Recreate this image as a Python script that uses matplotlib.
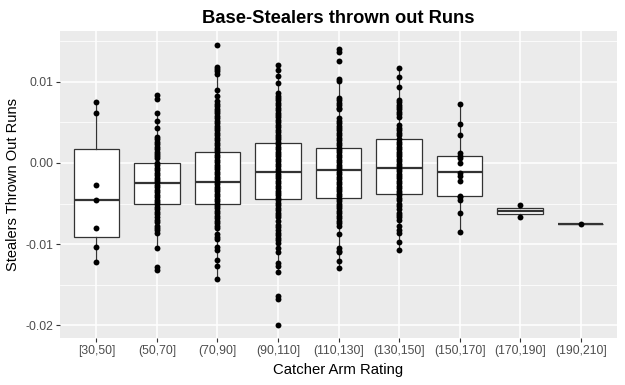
import matplotlib
matplotlib.use("Agg")
import matplotlib.pyplot as plt

plt.rcParams['font.family'] = ['Liberation Sans', 'DejaVu Sans']

categories = ["[30,50]", "(50,70]", "(70,90]", "(90,110]", "(110,130]",
              "(130,150]", "(150,170]", "(170,190]", "(190,210]"]

# box stats
q1 = [-0.00911, -0.00501, -0.00501, -0.00443, -0.00431, -0.00382, -0.00403, -0.00628, -0.00748]
med = [-0.00452, -0.00251, -0.00239, -0.00115, -0.00091, -0.00066, -0.00116, -0.00591, -0.00748]
q3 = [0.00172, 0.0, 0.00135, 0.00246, 0.00185, 0.00296, 0.00086, -0.00554, -0.00748]
whislo = [-0.01219, -0.01047, -0.01433, -0.01335, -0.01293, -0.01068, -0.00846, -0.00665, -0.00748]
whishi = [0.00751, 0.00616, 0.01090, 0.01211, 0.01034, 0.01170, 0.00730, -0.00517, -0.00748]

# observed points per category
pts1 = [0.00751, 0.00616, -0.00271, -0.00456, -0.00800, -0.01034, -0.01219]
pts2 = [0.0084, 0.0079, 0.0062, 0.0052, 0.0043, 0.0032,
        0.0029, 0.0026, 0.0023, 0.0020, 0.0017, 0.0014, 0.0011, 0.0008, 0.0006, 0.0000,
        -0.0003, -0.0006, -0.0009, -0.0012, -0.0015, -0.0018, -0.0021, -0.0024, -0.0027, -0.0030,
        -0.0033, -0.0036, -0.0039, -0.0042, -0.0045, -0.0048, -0.0051, -0.0054, -0.0057, -0.0060,
        -0.0063, -0.0067, -0.0070, -0.0073, -0.0077, -0.0080, -0.0083, -0.0086,
        -0.0105, -0.0128, -0.0132]
pts3 = [0.0145, 0.0118, 0.0116, 0.0113, 0.0110, 0.0090, 0.0082,
        0.0076, 0.0073, 0.0070, 0.0067, 0.0064, 0.0061, 0.0058, 0.0055, 0.0052, 0.0049,
        0.0046, 0.0043, 0.0040, 0.0037, 0.0034, 0.0031, 0.0028, 0.0025, 0.0022, 0.0019,
        0.0016, 0.0013, 0.0010, 0.0007, 0.0004, 0.0001, -0.0002, -0.0005, -0.0008, -0.0011,
        -0.0014, -0.0017, -0.0020, -0.0023, -0.0026, -0.0029, -0.0032, -0.0035, -0.0038, -0.0041,
        -0.0044, -0.0047, -0.0050, -0.0053, -0.0056, -0.0059, -0.0062, -0.0065, -0.0068, -0.0071,
        -0.0074, -0.0077, -0.0080,
        -0.0088, -0.0091, -0.0094, -0.0104, -0.0107, -0.0119, -0.0127, -0.0143]
pts4 = [0.0121, 0.0115, 0.0107, 0.0099,
        0.0086, 0.0083, 0.0080, 0.0077, 0.0074, 0.0071, 0.0068, 0.0065, 0.0062, 0.0059,
        0.0056, 0.0053, 0.0050, 0.0047, 0.0044, 0.0041, 0.0038, 0.0035, 0.0032, 0.0029,
        0.0026, 0.0023, 0.0020, 0.0017, 0.0014, 0.0011, 0.0008, 0.0005, 0.0002, -0.0001,
        -0.0004, -0.0007, -0.0010, -0.0013, -0.0016, -0.0019, -0.0022, -0.0025, -0.0028, -0.0031,
        -0.0034, -0.0037, -0.0040, -0.0043, -0.0046, -0.0049, -0.0052, -0.0055, -0.0058, -0.0061,
        -0.0064, -0.0067,
        -0.0072, -0.0076, -0.0079, -0.0082, -0.0086, -0.0089, -0.0092, -0.0095, -0.0099,
        -0.0105, -0.0109, -0.0123, -0.0127, -0.0134, -0.0164, -0.0168, -0.0199]
pts5 = [0.0140, 0.0137, 0.0126, 0.0103, 0.0101,
        0.0080, 0.0077, 0.0074, 0.0071, 0.0068, 0.0066,
        0.0055, 0.0052, 0.0049, 0.0046, 0.0043, 0.0040, 0.0037, 0.0034, 0.0031, 0.0028,
        0.0025, 0.0022, 0.0019, 0.0016, 0.0013, 0.0010, 0.0007, 0.0004, 0.0001, -0.0002,
        -0.0005, -0.0008, -0.0011, -0.0014, -0.0017, -0.0020, -0.0023, -0.0026, -0.0029, -0.0032,
        -0.0035, -0.0038, -0.0041, -0.0044, -0.0047, -0.0050, -0.0053, -0.0056, -0.0059, -0.0062,
        -0.0065, -0.0068, -0.0071, -0.0074, -0.0077,
        -0.0088, -0.0105, -0.0108, -0.0110, -0.0121, -0.0129]
pts6 = [0.0117, 0.0106, 0.0094,
        0.0078, 0.0075, 0.0072, 0.0069, 0.0066, 0.0063, 0.0060, 0.0057,
        0.0047, 0.0043, 0.0040, 0.0037, 0.0034,
        0.0029, 0.0026, 0.0023, 0.0020, 0.0017, 0.0014, 0.0011, 0.0008, 0.0005, 0.0002,
        -0.0001, -0.0004, -0.0007, -0.0010, -0.0013, -0.0016, -0.0019, -0.0022, -0.0025, -0.0028,
        -0.0031, -0.0034, -0.0037, -0.0040, -0.0043, -0.0046,
        -0.0050, -0.0053, -0.0057, -0.0061, -0.0064, -0.0067, -0.0070,
        -0.0078, -0.0082, -0.0086, -0.0097, -0.0107]
pts7 = [0.0073, 0.0048, 0.00345, 0.00123, 0.0009, 0.00062, 0.0, -0.00123, -0.00165,
        -0.00227, -0.00403, -0.00424, -0.00452, -0.00616, -0.00846]
pts8 = [-0.00517, -0.00665]
pts9 = [-0.00748]
points = [pts1, pts2, pts3, pts4, pts5, pts6, pts7, pts8, pts9]

fig = plt.figure(figsize=(6.25, 3.85), dpi=100)
ax = fig.add_axes([60 / 625, 1 - 338 / 385, 557 / 625, 307 / 385])
ax.set_facecolor('#EBEBEB')

pos = list(range(1, len(categories) + 1))
stats = []
for i in range(len(categories)):
    stats.append(dict(med=med[i], q1=q1[i], q3=q3[i], whislo=whislo[i],
                      whishi=whishi[i], fliers=[]))
ax.bxp(stats, positions=pos, widths=0.75, patch_artist=True, showcaps=False,
       boxprops=dict(facecolor='white', edgecolor='#333333', linewidth=0.9),
       medianprops=dict(color='#333333', linewidth=1.6),
       whiskerprops=dict(color='#333333', linewidth=0.9), zorder=3)

for p, vals in zip(pos, points):
    ax.scatter([p] * len(vals), vals, s=18, color='black', linewidths=0, zorder=4)

ax.set_xlim(0.4, 9.6)
ax.set_ylim(-0.02155, 0.01625)
ax.set_yticks([0.01, 0.0, -0.01, -0.02])
ax.set_yticklabels(['0.01', '0.00', '-0.01', '-0.02'])
ax.set_yticks([0.015, 0.005, -0.005, -0.015], minor=True)
ax.set_xticks(pos)
ax.set_xticklabels(categories)
ax.grid(which='major', color='white', linewidth=1.1, zorder=0)
ax.grid(which='minor', axis='y', color='white', linewidth=0.55, zorder=0)
ax.set_axisbelow(True)
for s in ax.spines.values():
    s.set_visible(False)
ax.tick_params(which='major', length=2.8, color='#333333', labelcolor='#4D4D4D',
               labelsize=8.8, pad=2)
ax.tick_params(axis='x', which='major', pad=2.5)
ax.tick_params(which='minor', length=0)

ax.set_xlabel("Catcher Arm Rating", fontsize=10.7, color='black', labelpad=4)
ax.set_ylabel("Stealers Thrown Out Runs", fontsize=10.5, color='black', labelpad=4)
ax.set_title("Base-Stealers thrown out Runs", fontsize=13.2, fontweight='bold', pad=6)

fig.savefig("out.png", dpi=100)
